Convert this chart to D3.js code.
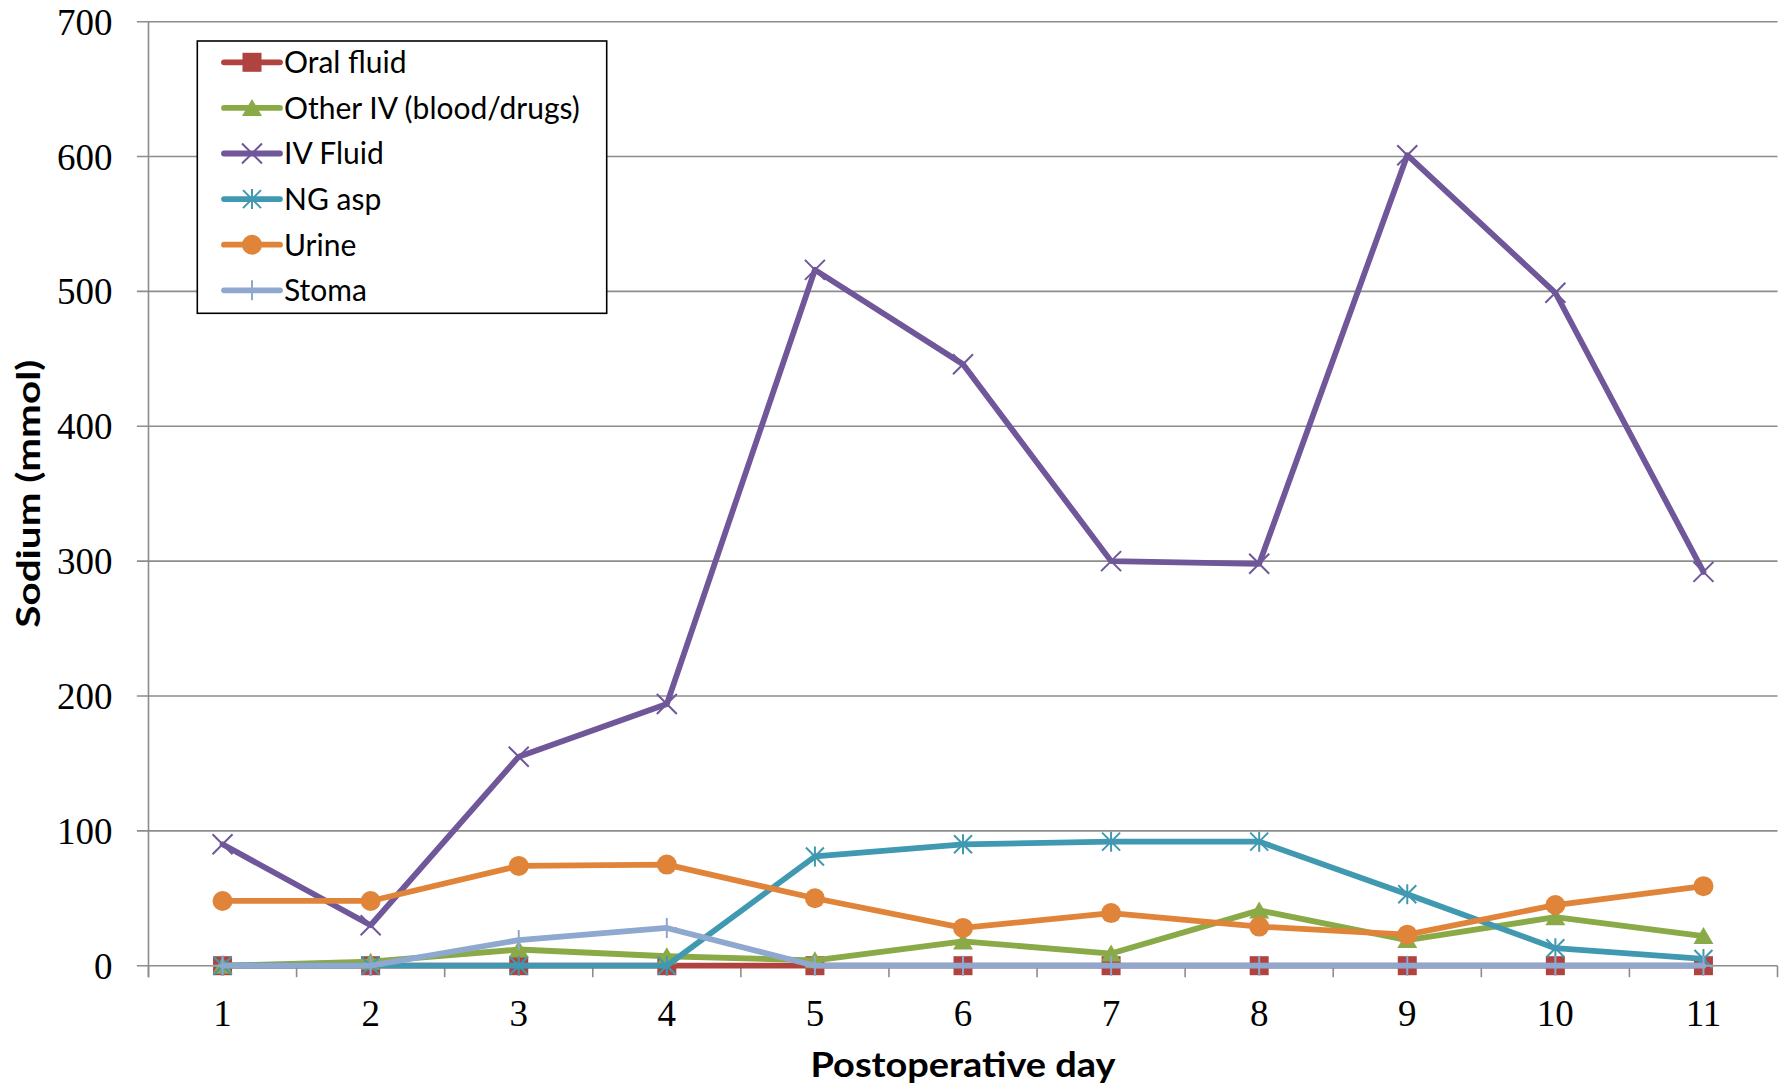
<!DOCTYPE html>
<html><head><meta charset="utf-8">
<script src="https://cdn.jsdelivr.net/npm/d3@7"></script>
<style>body{margin:0;background:#fff}</style></head>
<body><svg id="c" width="1791" height="1091"></svg>
<script>
// ---- data ----
const days = [1,2,3,4,5,6,7,8,9,10,11];
const seriesNames = ["Oral fluid","Other IV (blood/drugs)","IV Fluid","NG asp","Urine","Stoma"];
const oralFluid = [0,0,0,0,0,0,0,0,0,0,0];
const otherIV   = [0,3,12,7,4,18,9,41,19,36,22];
const ivFluid   = [90,30,155,194,516,446,300,298,601,499,292];
const ngAsp     = [0,0,0,0,81,90,92,92,53,13,5];
const urine     = [48,48,74,75,50,28,39,29,23,45,59];
const stoma     = [0,0,19,28,0,0,0,0,0,0,0];
const yTicks    = [0,100,200,300,400,500,600,700];
const xTitle = "Postoperative day";
const yTitle = "Sodium (mmol)";

// ---- styles ----
const seriesValues = [oralFluid, otherIV, ivFluid, ngAsp, urine, stoma];
const colors = ["#B0433F","#8AAA48","#6F579A","#4099B0","#E0843A","#8FA8D0"];
const markers = ["square","triangle","x","asterisk","circle","plus"];

const L = 148.5, R = 1777.5, T = 21.7, B = 965.7;
const svg = d3.select("#c");

const xb = d3.scaleBand().domain(days).range([L, R]);
const x = d => xb(d) + xb.bandwidth()/2;
const y = d3.scaleLinear().domain([0, 700]).range([B, T]);

const gridColor = "#8c8c8c";
svg.append("g").selectAll("line").data(yTicks).join("line")
  .attr("x1", L - 11.6).attr("x2", R)
  .attr("y1", d => y(d)).attr("y2", d => y(d))
  .attr("stroke", gridColor).attr("stroke-width", 1.6);
svg.append("line").attr("x1", L).attr("x2", L).attr("y1", T).attr("y2", B + 11.5)
  .attr("stroke", gridColor).attr("stroke-width", 1.6);
const bounds = days.map(d => xb(d)).concat([R]);
svg.append("g").selectAll("line").data(bounds).join("line")
  .attr("x1", d => d).attr("x2", d => d).attr("y1", B).attr("y2", B + 11.5)
  .attr("stroke", gridColor).attr("stroke-width", 1.6);

svg.append("g").selectAll("text").data(yTicks).join("text")
  .attr("x", 112.5).attr("y", d => y(d)).attr("dy", "0.35em")
  .attr("text-anchor", "end")
  .attr("font-family", "Liberation Serif, serif").attr("font-size", 37)
  .text(d => d);
svg.append("g").selectAll("text").data(days).join("text")
  .attr("x", d => x(d)).attr("y", 1025.5)
  .attr("text-anchor", "middle")
  .attr("font-family", "Liberation Serif, serif").attr("font-size", 37)
  .text(d => d);

svg.append("text").attr("x", (L + R)/2).attr("y", 1077)
  .attr("text-anchor", "middle").attr("font-family", "Lato, sans-serif")
  .attr("font-weight", "bold").attr("font-size", 35)
  .attr("textLength", 305).attr("lengthAdjust", "spacingAndGlyphs").text(xTitle);
svg.append("text").attr("transform", `translate(40,${(T + B)/2}) rotate(-90)`)
  .attr("text-anchor", "middle").attr("font-family", "Lato, sans-serif")
  .attr("font-weight", "bold").attr("font-size", 32)
  .attr("textLength", 268).attr("lengthAdjust", "spacingAndGlyphs").text(yTitle);

function drawMarker(g, type, cx, cy, color) {
  if (type === "square") {
    g.append("rect").attr("x", cx - 9.5).attr("y", cy - 9.5).attr("width", 19).attr("height", 19).attr("fill", color);
  } else if (type === "triangle") {
    g.append("path").attr("d", `M${cx},${cy-9}L${cx+10},${cy+8}L${cx-10},${cy+8}Z`).attr("fill", color);
  } else if (type === "circle") {
    g.append("circle").attr("cx", cx).attr("cy", cy).attr("r", 10).attr("fill", color);
  } else if (type === "x") {
    g.append("path").attr("d", `M${cx-10},${cy-10}L${cx+10},${cy+10}M${cx-10},${cy+10}L${cx+10},${cy-10}`)
      .attr("stroke", color).attr("stroke-width", 2).attr("fill", "none");
  } else if (type === "asterisk") {
    g.append("path").attr("d", `M${cx-9},${cy-9}L${cx+9},${cy+9}M${cx-9},${cy+9}L${cx+9},${cy-9}M${cx},${cy-10}L${cx},${cy+10}`)
      .attr("stroke", color).attr("stroke-width", 2).attr("fill", "none");
  } else if (type === "plus") {
    g.append("path").attr("d", `M${cx},${cy-10}L${cx},${cy+10}M${cx-10},${cy}L${cx+10},${cy}`)
      .attr("stroke", color).attr("stroke-width", 2).attr("fill", "none");
  }
}

const line = d3.line().x((v, i) => x(days[i])).y(v => y(v));
seriesValues.forEach((vals, si) => {
  const g = svg.append("g");
  g.append("path").datum(vals).attr("d", line).attr("fill", "none")
    .attr("stroke", colors[si]).attr("stroke-width", 5.8).attr("stroke-linejoin", "round").attr("stroke-linecap", "round");
  vals.forEach((v, i) => drawMarker(g, markers[si], x(days[i]), y(v), colors[si]));
});

const lg = svg.append("g");
lg.append("rect").attr("x", 197.3).attr("y", 41).attr("width", 409.4).attr("height", 272.3)
  .attr("fill", "#fff").attr("stroke", "#000").attr("stroke-width", 1.6);
seriesNames.forEach((name, i) => {
  const cy = 62.3 + i * 45.6;
  lg.append("line").attr("x1", 224).attr("x2", 280).attr("y1", cy).attr("y2", cy)
    .attr("stroke", colors[i]).attr("stroke-width", 5.8).attr("stroke-linecap", "round");
  drawMarker(lg, markers[i], 252, cy, colors[i]);
  lg.append("text").attr("x", 284).attr("y", cy).attr("dy", "0.36em")
    .attr("font-family", "Lato, sans-serif").attr("font-size", 30).text(name);
});
</script></body></html>
